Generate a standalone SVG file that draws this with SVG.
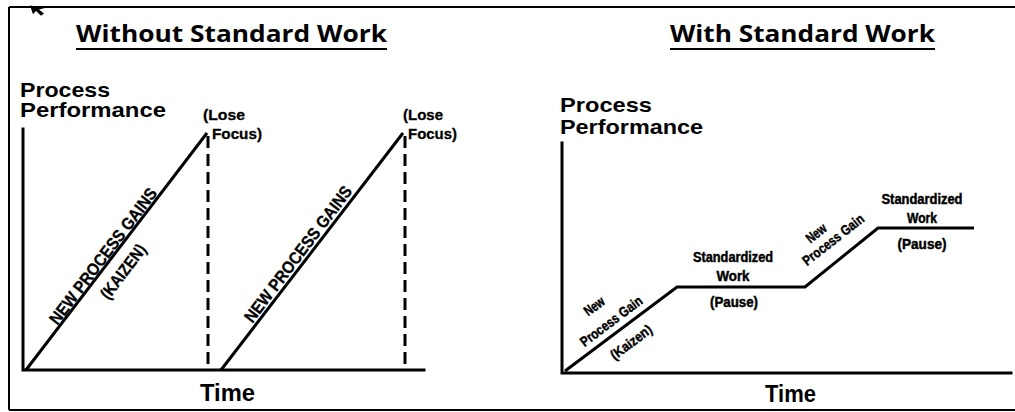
<svg xmlns="http://www.w3.org/2000/svg" width="1015" height="412" viewBox="0 0 1015 412">
  <style>
    .title { font-family: "Open Sans", "Liberation Sans", sans-serif; font-weight: 700; font-size: 24px; fill: #000; }
    .axis-label { font-family: "Liberation Sans", Arial, sans-serif; font-weight: 700; font-size: 21px; fill: #000; }
    .time { font-family: "Liberation Sans", Arial, sans-serif; font-weight: 700; font-size: 24px; fill: #000; }
    .note { font-family: "Liberation Sans", Arial, sans-serif; font-weight: 700; font-size: 15px; fill: #000; stroke: #000; stroke-width: 0.3; }
    .diag { font-family: "Liberation Sans", Arial, sans-serif; font-weight: 700; font-size: 17px; fill: #000; stroke: #000; stroke-width: 0.3; }
    .small { font-family: "Liberation Sans", Arial, sans-serif; font-weight: 700; font-size: 14px; fill: #000; stroke: #000; stroke-width: 0.45; }
    .axis { stroke: #000; stroke-width: 3; fill: none; stroke-linecap: square; }
    .trend { stroke: #000; stroke-width: 3; fill: none; stroke-linejoin: miter; }
    .dashed { stroke: #000; stroke-width: 3; fill: none; stroke-dasharray: 12 6; }
    .rule { stroke: #000; stroke-width: 2; fill: none; }
  </style>

  <rect width="1015" height="412" fill="#fff"/>

  <!-- outer frame (open on the right) -->
  <g id="frame">
    <path class="rule" d="M9 7 H1015 M9 7 V410 M9 410 H1015"/>
    <!-- mouse pointer -->
    <path d="M30 8 L33 19 L36 15 L41 21 L44 18 L39 13 L46 11 Z" fill="#000" transform="translate(0,-1) scale(1,0.8)"/>
  </g>

  <!-- titles -->
  <g id="title-left">
    <text class="title" x="76" y="42" textLength="311" lengthAdjust="spacingAndGlyphs">Without Standard Work</text>
    <line class="rule" x1="76" y1="49" x2="387" y2="49"/>
  </g>
  <g id="title-right">
    <text class="title" x="670" y="42" textLength="265" lengthAdjust="spacingAndGlyphs">With Standard Work</text>
    <line class="rule" x1="670" y1="49" x2="935" y2="49"/>
  </g>

  <!-- left chart: without standard work -->
  <g id="chart-left">
    <g id="left-axes">
      <path class="axis" d="M23 129 V370 H424"/>
      <text class="axis-label" x="20" y="97" textLength="90" lengthAdjust="spacingAndGlyphs">Process</text>
      <text class="axis-label" x="20" y="117" textLength="146" lengthAdjust="spacingAndGlyphs">Performance</text>
      <text class="time" x="200" y="401" textLength="55" lengthAdjust="spacingAndGlyphs">Time</text>
    </g>
    <g id="left-gain-1">
      <text class="diag" transform="translate(103,256) rotate(-52.8)" x="0" y="6" text-anchor="middle" textLength="166" lengthAdjust="spacingAndGlyphs">NEW PROCESS GAINS</text>
      <text class="diag" transform="translate(123,271.5) rotate(-52.8)" x="0" y="6" text-anchor="middle" textLength="64" lengthAdjust="spacingAndGlyphs">(KAIZEN)</text>
    </g>
    <g id="left-lose-1">
      <text class="note" x="203" y="120" textLength="42" lengthAdjust="spacingAndGlyphs">(Lose</text>
      <text class="note" x="212" y="139" textLength="50" lengthAdjust="spacingAndGlyphs">Focus)</text>
    </g>
    <g id="left-gain-2">
      <text class="diag" transform="translate(298,254) rotate(-52.8)" x="0" y="6" text-anchor="middle" textLength="166" lengthAdjust="spacingAndGlyphs">NEW PROCESS GAINS</text>
    </g>
    <g id="left-lose-2">
      <text class="note" x="403" y="120" textLength="40" lengthAdjust="spacingAndGlyphs">(Lose</text>
      <text class="note" x="408" y="139" textLength="49" lengthAdjust="spacingAndGlyphs">Focus)</text>
    </g>
  </g>

  <!-- right chart: with standard work -->
  <g id="chart-right">
    <g id="right-axes">
      <path class="axis" d="M562 143 V373 H1011"/>
      <text class="axis-label" x="560" y="112" textLength="92" lengthAdjust="spacingAndGlyphs">Process</text>
      <text class="axis-label" x="560" y="134" textLength="143" lengthAdjust="spacingAndGlyphs">Performance</text>
      <text class="time" x="765" y="402" textLength="51" lengthAdjust="spacingAndGlyphs">Time</text>
    </g>
    <g id="right-gain-1">
      <text class="small" transform="translate(594,306) rotate(-37)" x="0" y="5" text-anchor="middle" textLength="22" lengthAdjust="spacingAndGlyphs">New</text>
      <text class="small" transform="translate(611,321) rotate(-37)" x="0" y="5" text-anchor="middle" textLength="74" lengthAdjust="spacingAndGlyphs">Process Gain</text>
      <text class="small" transform="translate(631,342) rotate(-37)" x="0" y="5" text-anchor="middle" textLength="48" lengthAdjust="spacingAndGlyphs">(Kaizen)</text>
    </g>
    <g id="right-standard-1">
      <text class="small" x="733" y="262" text-anchor="middle" textLength="80" lengthAdjust="spacingAndGlyphs">Standardized</text>
      <text class="small" x="733" y="281" text-anchor="middle" textLength="33" lengthAdjust="spacingAndGlyphs">Work</text>
      <text class="small" x="734" y="307" text-anchor="middle" textLength="48" lengthAdjust="spacingAndGlyphs">(Pause)</text>
    </g>
    <g id="right-gain-2">
      <text class="small" transform="translate(816,233) rotate(-38)" x="0" y="5" text-anchor="middle" textLength="22" lengthAdjust="spacingAndGlyphs">New</text>
      <text class="small" transform="translate(833,239.5) rotate(-38)" x="0" y="5" text-anchor="middle" textLength="74" lengthAdjust="spacingAndGlyphs">Process Gain</text>
    </g>
    <g id="right-standard-2">
      <text class="small" x="922" y="204" text-anchor="middle" textLength="81" lengthAdjust="spacingAndGlyphs">Standardized</text>
      <text class="small" x="922" y="223" text-anchor="middle" textLength="30" lengthAdjust="spacingAndGlyphs">Work</text>
      <text class="small" x="922" y="249" text-anchor="middle" textLength="49" lengthAdjust="spacingAndGlyphs">(Pause)</text>
    </g>
  </g>

  <!-- connectors: performance traces and drop-off lines -->
  <g id="connectors">
    <line class="trend" x1="26" y1="370" x2="207" y2="133"/>
    <line class="dashed" x1="208" y1="136" x2="208" y2="370"/>
    <line class="trend" x1="221" y1="370" x2="403" y2="133"/>
    <line class="dashed" x1="405" y1="136" x2="405" y2="370"/>
    <polyline class="trend" points="565,371 677,287 805,287 878,228 974,228"/>
  </g>
</svg>
